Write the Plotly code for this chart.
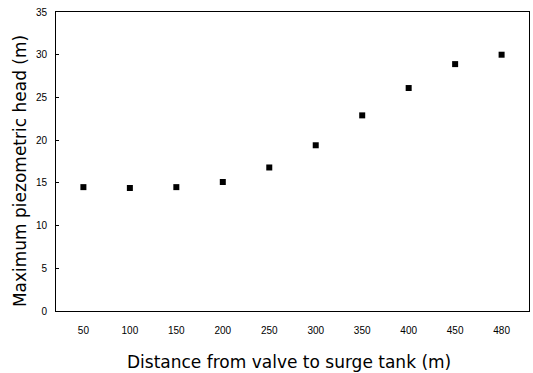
import plotly.graph_objects as go

categories = ["50", "100", "150", "200", "250", "300", "350", "400", "450", "480"]
head_values = [14.5, 14.4, 14.5, 15.1, 16.8, 19.4, 22.9, 26.1, 28.9, 30.0]
y_ticks = [0, 5, 10, 15, 20, 25, 30, 35]

fig = go.Figure()
fig.add_trace(go.Scatter(
    x=categories, y=head_values, mode="markers",
    marker=dict(symbol="square", size=6, color="black"),
    showlegend=False,
))

fig.update_layout(
    width=533, height=373,
    margin=dict(l=56, r=4, t=12, b=62),
    plot_bgcolor="white", paper_bgcolor="white",
    font=dict(family="Liberation Sans, Arial", color="black", size=10),
    xaxis=dict(
        type="category", showline=True, linecolor="black", linewidth=1,
        mirror=True, ticks="", showgrid=False, zeroline=False,
        tickfont=dict(size=10), ticklabelstandoff=10,
    ),
    yaxis=dict(
        range=[0, 35], tickvals=y_ticks, showline=True, linecolor="black",
        linewidth=1, mirror=True, ticks="inside", ticklen=3, tickcolor="black",
        showgrid=False, zeroline=False, tickfont=dict(size=10),
        ticklabelstandoff=6,
    ),
    annotations=[
        dict(text="Distance from valve to surge tank (m)", xref="paper", yref="paper",
             x=0.4926, y=-0.17, xanchor="center", yanchor="middle", showarrow=False,
             font=dict(size=17, family="DejaVu Sans")),
        dict(text="Maximum piezometric head (m)", xref="paper", yref="paper",
             x=-0.076, y=0.468, xanchor="center", yanchor="middle", showarrow=False,
             textangle=-90, font=dict(size=17, family="DejaVu Sans")),
    ],
)

fig.write_html("out.html")
